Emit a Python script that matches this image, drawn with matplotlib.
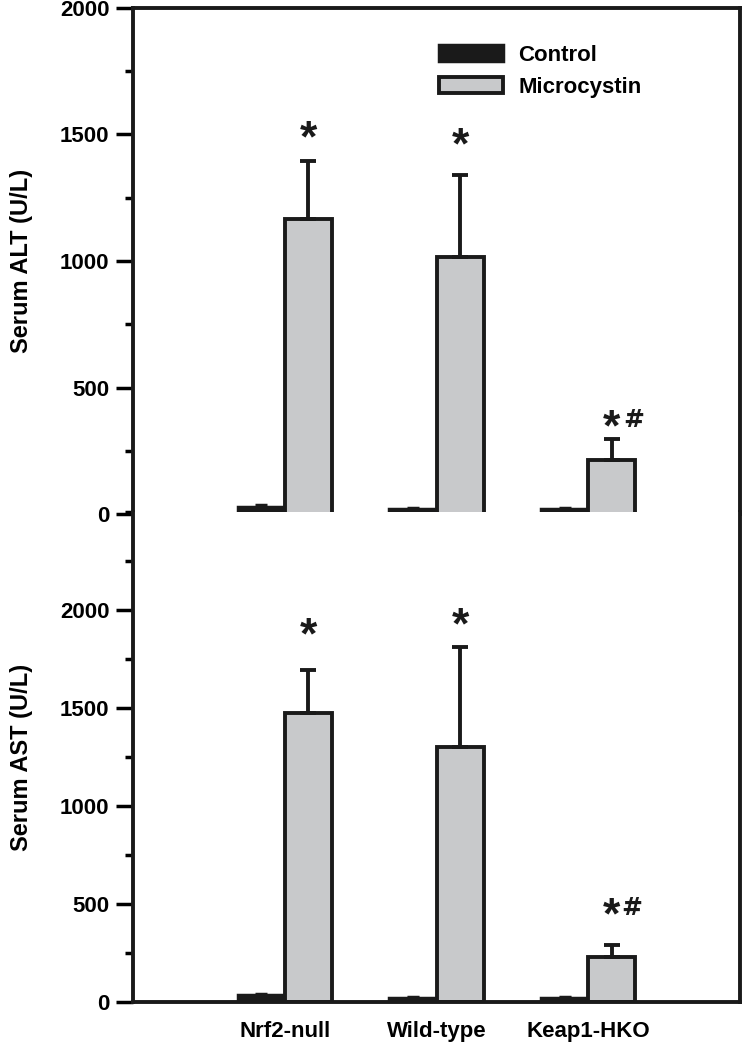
import numpy as np
import matplotlib
matplotlib.use("Agg")
import matplotlib.pyplot as plt
from matplotlib.ticker import MultipleLocator

plt.rcParams['font.family'] = ['Liberation Sans', 'DejaVu Sans']
plt.rcParams['font.weight'] = 'bold'

# data
groups = ['Nrf2-null', 'Wild-type', 'Keap1-HKO']
alt_control = [30, 20, 20]
alt_control_err = [6, 3, 3]
alt_micro = [1166, 1016, 213]
alt_micro_err = [229, 324, 83]
ast_control = [35, 22, 22]
ast_control_err = [7, 3, 3]
ast_micro = [1474, 1301, 230]
ast_micro_err = [220, 510, 61]

# significance marks: (group index, text, y of text)
alt_marks = [(0, '*', 1478), (1, '*', 1450), (2, '*', 336), (2, '#', 372)]
ast_marks = [(0, '*', 1863), (1, '*', 1914), (2, '*', 435), (2, '#', 480)]

gray = '#c8c9cb'
ink = '#1a1a1a'
x = np.arange(1, len(groups) + 1)
w = 0.31

fig = plt.figure(figsize=(7.43, 10.45), dpi=100)
ax1 = fig.add_axes([0.179, 0.508, 0.817, 0.4845])
ax2 = fig.add_axes([0.179, 0.0411, 0.817, 0.4689])


def draw_panel(ax, ctrl, ctrl_err, micro, micro_err, marks, top, hash_dx):
    ax.bar(x - w / 2, ctrl, w, yerr=ctrl_err, color=ink, edgecolor=ink,
           linewidth=2.5, label='Control',
           error_kw=dict(ecolor=ink, elinewidth=2.5, capsize=4, capthick=2.5))
    ax.bar(x + w / 2, micro, w, yerr=[np.zeros(3), micro_err], color=gray,
           edgecolor=ink, linewidth=2.8, label='Microcystin',
           error_kw=dict(ecolor=ink, elinewidth=2.8, capsize=6, capthick=2.8))
    for gi, txt, yy in marks:
        if txt == '*':
            ax.text(x[gi] + w / 2, yy, '*', ha='center', va='center', fontsize=32,
                    fontweight='bold', color=ink)
        else:
            ax.text(x[gi] + w / 2 + hash_dx, yy, '#', ha='center', va='center',
                    fontsize=18, fontweight='bold', family='DejaVu Sans', color=ink)
    ax.set_xlim(0, 4)
    ax.set_ylim(0, top)
    ax.yaxis.set_major_locator(MultipleLocator(500))
    ax.yaxis.set_minor_locator(MultipleLocator(250))
    ax.tick_params(axis='y', which='major', length=12, width=2.5, labelsize=16, pad=5)
    ax.tick_params(axis='y', which='minor', length=6, width=2.5)
    ax.tick_params(axis='x', length=0, labelsize=16, pad=14)
    for s in ax.spines.values():
        s.set_linewidth(2.8)
        s.set_color(ink)


draw_panel(ax1, alt_control, alt_control_err, alt_micro, alt_micro_err, alt_marks, 2000, 0.145)
draw_panel(ax2, ast_control, ast_control_err, ast_micro, ast_micro_err, ast_marks, 2500, 0.13)

ax1.set_xticks([])
ax2.set_xticks(x)
ax2.set_xticklabels(groups, fontweight='bold')
ax2.set_yticks([0, 500, 1000, 1500, 2000])
ax2.yaxis.set_minor_locator(MultipleLocator(250))
ax2.spines['top'].set_visible(False)

ax1.set_ylabel('Serum ALT (U/L)', fontsize=17, fontweight='bold')
ax2.set_ylabel('Serum AST (U/L)', fontsize=17, fontweight='bold')
ax1.yaxis.set_label_coords(-0.165, 0.5)
ax2.yaxis.set_label_coords(-0.165, 0.5)

ax1.legend(loc='upper left', bbox_to_anchor=(0.485, 0.949), frameon=False,
           fontsize=16, handlelength=2.9, handleheight=0.68, handletextpad=0.7,
           labelspacing=0.5, borderpad=0)

fig.savefig('out.png', dpi=100)
